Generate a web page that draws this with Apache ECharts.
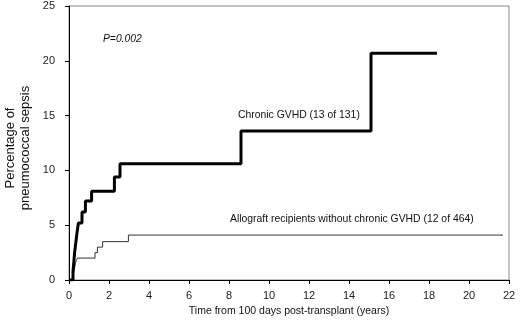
<!DOCTYPE html>
<html>
<head>
<meta charset="utf-8">
<script src="https://cdn.jsdelivr.net/npm/echarts@6/dist/echarts.min.js"></script>
<style>
  html, body { margin: 0; padding: 0; background: #fff; }
  #chart { width: 520px; height: 322px; }
</style>
</head>
<body>
<div id="chart"></div>
<script>
// cumulative incidence
const chronicTime = [0, 0.2, 0.24, 0.28, 0.34, 0.4, 0.47, 0.65, 0.82, 1.13, 2.27, 2.55, 8.6, 15.1, 18.4];
const chronicPct = [0, 0.8, 1.6, 2.5, 3.4, 4.3, 5.2, 6.2, 7.2, 8.1, 9.4, 10.6, 13.6, 20.7, 20.7];

const allograftTime = [0, 0.22, 0.27, 0.32, 0.37, 0.43, 1.3, 1.42, 1.68, 2.97, 21.7];
const allograftPct = [0, 0.5, 1.0, 1.5, 1.8, 2.0, 2.5, 3.0, 3.5, 4.1, 4.1];

const xTicks = [0, 2, 4, 6, 8, 10, 12, 14, 16, 18, 20, 22];
const yTicks = [0, 5, 10, 15, 20, 25];

const font = "'Liberation Sans', Arial, sans-serif";

const chart = echarts.init(document.getElementById('chart'));

const pairs = (xs, ys) => xs.map((x, i) => [x, ys[i]]);

chart.setOption({
  animation: false,
  backgroundColor: '#fff',
  textStyle: { fontFamily: font },
  grid: {
    left: 69, right: 11, top: 6, bottom: 41,
    show: true, borderColor: '#888', borderWidth: 1
  },
  xAxis: {
    type: 'value',
    min: xTicks[0], max: xTicks[xTicks.length - 1], interval: 2,
    name: 'Time from 100 days post-transplant (years)',
    nameLocation: 'middle', nameGap: 26,
    nameTextStyle: { fontSize: 10.5, color: '#111', fontFamily: font },
    axisLine: { lineStyle: { color: '#000', width: 1 } },
    axisTick: { show: true, length: 4, lineStyle: { color: '#000' } },
    axisLabel: { fontSize: 11, color: '#222', margin: 10, fontFamily: font },
    splitLine: { show: false }
  },
  yAxis: {
    type: 'value',
    min: yTicks[0], max: yTicks[yTicks.length - 1], interval: 5,
    axisLine: { show: true, lineStyle: { color: '#000', width: 1 } },
    axisTick: { show: true, length: 4, lineStyle: { color: '#000' } },
    axisLabel: { fontSize: 11, color: '#222', margin: 14, fontFamily: font },
    splitLine: { show: false }
  },
  graphic: [
    {
      type: 'text', x: 18, y: 148, rotation: Math.PI / 2,
      style: {
        text: 'Percentage of\npneumococcal sepsis',
        fontSize: 13, lineHeight: 15, fontFamily: font, fill: '#111',
        align: 'center', verticalAlign: 'middle'
      }
    },
    {
      type: 'text', x: 103, y: 39,
      style: {
        text: 'P=0.002', fontSize: 10.3, fontStyle: 'italic', fontFamily: font,
        fill: '#111', verticalAlign: 'middle'
      }
    },
    {
      type: 'text', x: 238, y: 115,
      style: {
        text: 'Chronic GVHD (13 of 131)', fontSize: 10.4, fontFamily: font,
        fill: '#111', verticalAlign: 'middle'
      }
    },
    {
      type: 'text', x: 230, y: 219,
      style: {
        text: 'Allograft recipients without chronic GVHD (12 of 464)', fontSize: 10.4,
        fontFamily: font, fill: '#111', verticalAlign: 'middle'
      }
    }
  ],
  series: [
    {
      name: 'Allograft recipients without chronic GVHD',
      type: 'line', step: 'end', symbol: 'none',
      lineStyle: { color: '#333', width: 1 },
      data: pairs(allograftTime, allograftPct),
      z: 2
    },
    {
      name: 'Chronic GVHD',
      type: 'line', step: 'end', symbol: 'none',
      lineStyle: { color: '#000', width: 3 },
      data: pairs(chronicTime, chronicPct),
      z: 3
    }
  ]
});
</script>
</body>
</html>
